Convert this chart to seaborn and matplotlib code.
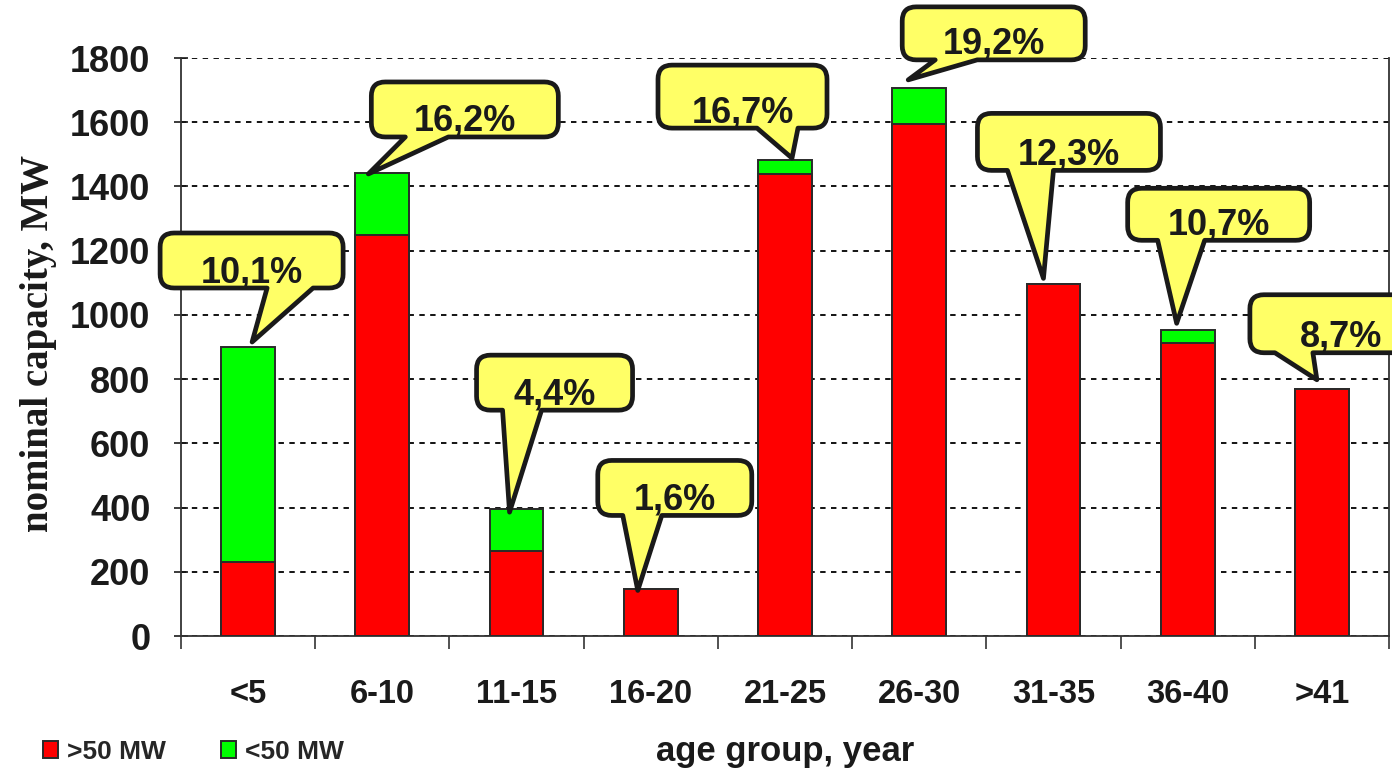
import numpy as np
import pandas as pd
import matplotlib
matplotlib.use("Agg")
import matplotlib.pyplot as plt
import matplotlib.transforms as mtransforms
from matplotlib.path import Path
from matplotlib.patches import PathPatch, Patch
import seaborn as sns

# ---- data -------------------------------------------------------------
age_groups = ["<5", "6-10", "11-15", "16-20", "21-25", "26-30", "31-35", "36-40", ">41"]
large_units = [230, 1250, 265, 145, 1438, 1595, 1095, 912, 770]   # units > 50 MW
small_units = [670, 192, 130, 0, 44, 112, 0, 40, 0]               # units < 50 MW
y_ticks = [0, 200, 400, 600, 800, 1000, 1200, 1400, 1600, 1800]
legend_labels = [">50 MW", "<50 MW"]

totals = np.array(large_units) + np.array(small_units)
shares = totals / totals.sum() * 100
share_labels = [f"{s:.1f}%".replace(".", ",") for s in shares]

# callout shapes in pixels relative to the top of each bar (x right, y down):
# box left, box right, box top, box bottom, tail base left, tail base right, tip x, tip y
callouts = [
    (-88, 95, -114, -59, 19, 65, 4, -5),
    (-11, 176, -91, -36, 23, 66, -14, 1),
    (-40, 116, -154, -99, -14, 25, -7, 3),
    (-53, 101, -129, -74, -28, 11, -13, 1),
    (-127, 42, -95, -32, -28, 13, 7, -2),
    (-17, 166, -81, -28, 16, 58, -11, -8),
    (-76, 107, -171, -114, -46, 0, -10, -6),
    (-60, 122, -142, -90, -30, 17, -11, -7),
    (-72, 110, -94, -36, -47, -9, -5, -9),
]

RED = "#FF0000"
GREEN = "#00FF00"
EDGE = "#2a2a2a"
INK = "#1a1a1a"
YELLOW = "#FFFF66"

sns.set_style("ticks")
plt.rcParams["font.family"] = ["Liberation Sans", "DejaVu Sans"]
plt.rcParams["font.weight"] = "bold"

W, H, DPI = 1392, 775, 100
fig = plt.figure(figsize=(W / DPI, H / DPI), dpi=DPI)
ax = fig.add_axes([181 / W, 1 - 636 / H, (1389 - 181) / W, (636 - 58) / H])

df = pd.DataFrame({"age": age_groups, "large": large_units, "total": totals})
bar_kw = dict(width=0.4, saturation=1, edgecolor=EDGE, linewidth=1.4,
              errorbar=None, zorder=3, ax=ax)
sns.barplot(data=df, x="age", y="total", color=GREEN, **bar_kw)
sns.barplot(data=df, x="age", y="large", color=RED, **bar_kw)

ax.set_xlim(-0.5, len(age_groups) - 0.5)
ax.set_ylim(0, 1800)
ax.set_yticks(y_ticks)
ax.set_axisbelow(True)
ax.yaxis.grid(True, color="black", linestyle=(0, (3, 3)), linewidth=1.3)
ax.xaxis.grid(False)

for side in ("left", "bottom", "right"):
    ax.spines[side].set_visible(True)
    ax.spines[side].set_color("#333333")
    ax.spines[side].set_linewidth(1.3)
ax.spines["top"].set_visible(False)

ax.tick_params(axis="y", direction="inout", length=10, width=1.2, pad=17,
               labelsize=26, colors=INK)
ax.set_xticks(np.arange(-0.5, len(age_groups), 1), minor=True)
ax.tick_params(axis="x", which="major", length=0, pad=31, labelsize=23.5, labelcolor=INK)
ax.tick_params(axis="x", which="minor", direction="out", length=9, width=1.2, color="#333333")
for lab in ax.get_xticklabels() + ax.get_yticklabels():
    lab.set_fontweight("bold")

ax.set_xlabel("age group, year", fontsize=25, fontweight="bold", color=INK)
ax.xaxis.set_label_coords(0.5, -0.172)
ax.set_ylabel("nominal capacity, MW", fontsize=28, fontweight="bold", color=INK,
              family=["Liberation Serif", "DejaVu Serif"])
ax.yaxis.set_label_coords(-0.103, 0.507)

# ---- speech-bubble callouts with each group's share ---------------------
def bubble_path(geom, r=14):
    x0, x1, y0, y1, b0, b1, tx, ty = geom
    top, bot, tip_y = -y0, -y1, -ty
    verts = [(x0 + r, bot), (b0, bot), (tx, tip_y), (b1, bot), (x1 - r, bot),
             (x1, bot), (x1, bot + r),
             (x1, top - r),
             (x1, top), (x1 - r, top),
             (x0 + r, top),
             (x0, top), (x0, top - r),
             (x0, bot + r),
             (x0, bot), (x0 + r, bot),
             (x0 + r, bot)]
    codes = [Path.MOVETO, Path.LINETO, Path.LINETO, Path.LINETO, Path.LINETO,
             Path.CURVE3, Path.CURVE3,
             Path.LINETO,
             Path.CURVE3, Path.CURVE3,
             Path.LINETO,
             Path.CURVE3, Path.CURVE3,
             Path.LINETO,
             Path.CURVE3, Path.CURVE3,
             Path.CLOSEPOLY]
    return Path(verts, codes)

px_to_pt = 72.0 / DPI
for i, (total, label, geom) in enumerate(zip(totals, share_labels, callouts)):
    anchor = mtransforms.ScaledTranslation(i, total, ax.transData)
    trans = mtransforms.Affine2D().scale(1.0 / DPI) + fig.dpi_scale_trans + anchor
    patch = PathPatch(bubble_path(geom), facecolor=YELLOW, edgecolor=INK,
                      linewidth=3.4, joinstyle="round", transform=trans,
                      zorder=5, clip_on=False)
    ax.add_patch(patch)
    x0, x1, y0, y1 = geom[:4]
    ax.annotate(label, xy=(i, total),
                xytext=((x0 + x1) / 2 * px_to_pt, -(y1 - 6) * px_to_pt),
                textcoords="offset points", ha="center", va="baseline",
                fontsize=26, fontweight="bold", color=INK, zorder=6,
                annotation_clip=False)

# ---- legend -----------------------------------------------------------
handles = [Patch(facecolor=RED, edgecolor=EDGE, linewidth=1.4),
           Patch(facecolor=GREEN, edgecolor=EDGE, linewidth=1.4)]
fig.legend(handles, legend_labels, loc="center left",
           bbox_to_anchor=(43 / W, 1 - 752 / H), ncol=2, frameon=False,
           prop={"size": 19, "weight": "bold"}, handlelength=0.55, handleheight=0.6,
           handletextpad=0.35, columnspacing=2.1, borderpad=0, borderaxespad=0)

fig.savefig("out.png", dpi=DPI, facecolor="white")
